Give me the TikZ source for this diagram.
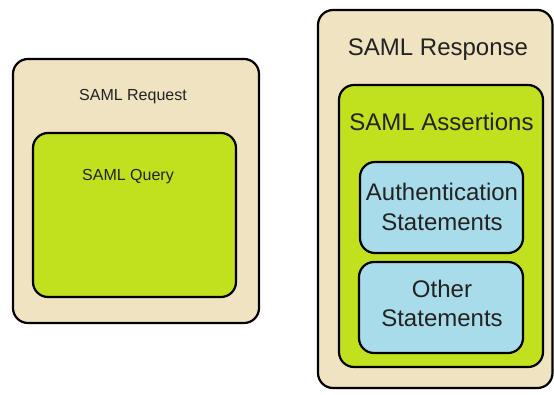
\documentclass[tikz,border=0pt]{standalone}
\usepackage{fontspec}
\setmainfont{Liberation Sans}
\definecolor{beige}{HTML}{EFE3C2}
\definecolor{lime}{HTML}{C1E01E}
\definecolor{sky}{HTML}{A9DCEA}
\definecolor{ink}{HTML}{222222}
\begin{document}
\begin{tikzpicture}[x=1pt,y=-1pt,
  panel/.style={draw=black,line width=2.2pt,rounded corners=15pt},
  lbl/.style={text=ink,inner sep=0pt,anchor=base,align=center},
  big/.style={lbl,font=\fontsize{24}{30}\selectfont},
  small/.style={lbl,font=\fontsize{16}{19}\selectfont}]
\useasboundingbox[fill=white] (0,0) rectangle (554,394);
% request side
\draw[panel,fill=beige] (13,59) rectangle (259,323);
\draw[panel,fill=lime] (33,133) rectangle (236,297);
\node[small] (req) at (133,100.7) {SAML Request};
\node[small] (qry) at (128,180) {SAML Query};
% response side
\draw[panel,fill=beige] (318,10) rectangle (552.5,388);
\draw[panel,fill=lime] (339,85) rectangle (543,367);
\draw[panel,fill=sky] (360,162) rectangle (523,253);
\draw[panel,fill=sky] (359,262) rectangle (523,353);
\node[big] (resp) at (438,55.7) {SAML Response};
\node[big] (asrt) at (441.5,130.5) {SAML Assertions};
\node[big] (auth) at (442,200) {Authentication};
\node[big] (st1) at (442,230.5) {Statements};
\node[big] (oth) at (442,297.7) {Other};
\node[big] (st2) at (442,326.7) {Statements};
\end{tikzpicture}
\end{document}
